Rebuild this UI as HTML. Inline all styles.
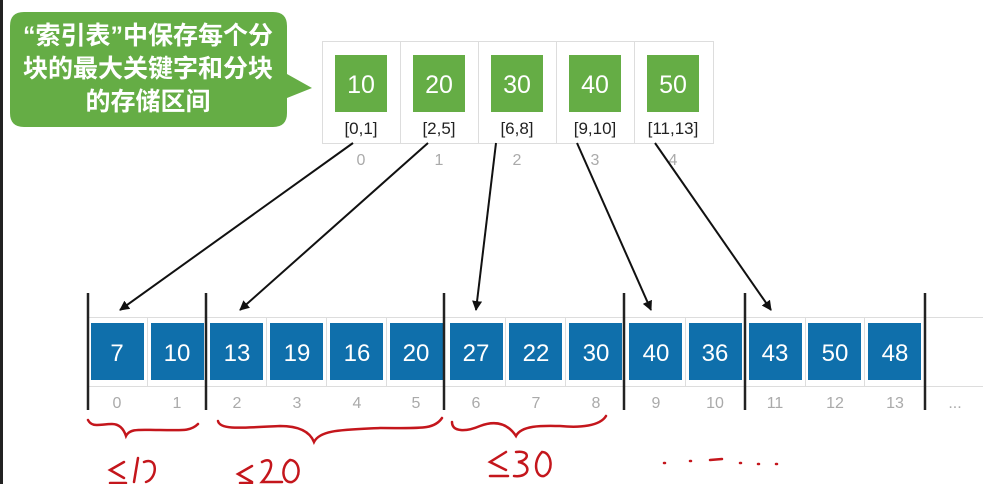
<!DOCTYPE html>
<html><head><meta charset="utf-8"><style>
html,body{margin:0;padding:0;background:#fff;}
svg{display:block;}
</style></head><body>
<svg width="983" height="484" viewBox="0 0 983 484" xmlns="http://www.w3.org/2000/svg" font-family="Liberation Sans, Arial, sans-serif">
<rect x="0" y="0" width="3" height="484" fill="#222"/>
<!-- callout -->
<path d="M24,12 H273 Q287,12 287,26 V74 L312,88 L287,98 V113 Q287,127 273,127 H24 Q10,127 10,113 V26 Q10,12 24,12 Z" fill="#65ad45"/>
<g fill="#fff" font-size="25" font-weight="bold" text-anchor="middle" font-family="Liberation Sans, Noto Sans CJK SC, sans-serif">
<text x="148" y="44">“索引表”中保存每个分</text>
<text x="148" y="77">块的最大关键字和分块</text>
<text x="148" y="110">的存储区间</text>
</g>
<!-- index table -->
<rect x="322.5" y="41.5" width="391" height="102" fill="#fff" stroke="#ddd"/>
<g stroke="#ddd"><line x1="400.5" y1="41" x2="400.5" y2="143"/><line x1="478.5" y1="41" x2="478.5" y2="143"/><line x1="556.5" y1="41" x2="556.5" y2="143"/><line x1="634.5" y1="41" x2="634.5" y2="143"/></g>
<g fill="#65ad45">
<rect x="335" y="55" width="52" height="57"/><rect x="413" y="55" width="52" height="57"/><rect x="491" y="55" width="52" height="57"/><rect x="569" y="55" width="52" height="57"/><rect x="647" y="55" width="52" height="57"/>
</g>
<g fill="#fff" font-size="25" text-anchor="middle">
<text x="361" y="93">10</text><text x="439" y="93">20</text><text x="517" y="93">30</text><text x="595" y="93">40</text><text x="673" y="93">50</text>
</g>
<g fill="#222" font-size="17" text-anchor="middle">
<text x="361" y="134">[0,1]</text><text x="439" y="134">[2,5]</text><text x="517" y="134">[6,8]</text><text x="595" y="134">[9,10]</text><text x="673" y="134">[11,13]</text>
</g>
<g fill="#aaa" font-size="16" text-anchor="middle">
<text x="361" y="165">0</text><text x="439" y="165">1</text><text x="517" y="165">2</text><text x="595" y="165">3</text><text x="673" y="165">4</text>
</g>
<!-- array strip -->
<rect x="88" y="317.5" width="900" height="69" fill="#fff" stroke="#ddd"/>
<g fill="#0f6fab">
<rect x="91" y="323" width="53" height="57"/><rect x="151" y="323" width="53" height="57"/><rect x="210" y="323" width="53" height="57"/><rect x="270" y="323" width="53" height="57"/><rect x="330" y="323" width="53" height="57"/><rect x="390" y="323" width="53" height="57"/><rect x="450" y="323" width="53" height="57"/><rect x="509" y="323" width="53" height="57"/><rect x="569" y="323" width="53" height="57"/><rect x="629" y="323" width="53" height="57"/><rect x="689" y="323" width="53" height="57"/><rect x="749" y="323" width="53" height="57"/><rect x="808" y="323" width="53" height="57"/><rect x="868" y="323" width="53" height="57"/>
</g>
<g stroke="#ddd"><line x1="147.5" y1="318" x2="147.5" y2="386"/><line x1="266.5" y1="318" x2="266.5" y2="386"/><line x1="326.5" y1="318" x2="326.5" y2="386"/><line x1="386.5" y1="318" x2="386.5" y2="386"/><line x1="505.5" y1="318" x2="505.5" y2="386"/><line x1="565.5" y1="318" x2="565.5" y2="386"/><line x1="685.5" y1="318" x2="685.5" y2="386"/><line x1="805.5" y1="318" x2="805.5" y2="386"/><line x1="864.5" y1="318" x2="864.5" y2="386"/></g>
<g fill="#fff" font-size="24" text-anchor="middle">
<text x="117" y="361">7</text><text x="177" y="361">10</text><text x="237" y="361">13</text><text x="297" y="361">19</text><text x="357" y="361">16</text><text x="416" y="361">20</text><text x="476" y="361">27</text><text x="536" y="361">22</text><text x="596" y="361">30</text><text x="656" y="361">40</text><text x="715" y="361">36</text><text x="775" y="361">43</text><text x="835" y="361">50</text><text x="895" y="361">48</text>
</g>
<g fill="#aaa" font-size="16" text-anchor="middle">
<text x="117" y="408">0</text><text x="177" y="408">1</text><text x="237" y="408">2</text><text x="297" y="408">3</text><text x="357" y="408">4</text><text x="416" y="408">5</text><text x="476" y="408">6</text><text x="536" y="408">7</text><text x="596" y="408">8</text><text x="656" y="408">9</text><text x="715" y="408">10</text><text x="775" y="408">11</text><text x="835" y="408">12</text><text x="895" y="408">13</text><text x="955" y="408">...</text>
</g>
<g stroke="#222" stroke-width="2.5">
<line x1="88" y1="293" x2="88" y2="410"/><line x1="206" y1="293" x2="206" y2="410"/><line x1="444" y1="293" x2="444" y2="410"/><line x1="624" y1="293" x2="624" y2="410"/><line x1="745" y1="293" x2="745" y2="410"/><line x1="925" y1="293" x2="925" y2="410"/>
</g>
<!-- arrows -->
<defs><marker id="ah" markerWidth="10" markerHeight="10" refX="9" refY="5" orient="auto" markerUnits="userSpaceOnUse"><path d="M0,0 L10,5 L0,10 Z" fill="#111"/></marker></defs>
<g stroke="#111" stroke-width="2" marker-end="url(#ah)">
<line x1="353" y1="143" x2="120" y2="310"/>
<line x1="428" y1="143" x2="240" y2="310"/>
<line x1="496" y1="143" x2="476" y2="310"/>
<line x1="577" y1="143" x2="651" y2="310"/>
<line x1="655" y1="143" x2="771" y2="310"/>
</g>
<!-- handwriting -->
<g fill="none" stroke="#c4161c" stroke-width="2.5" stroke-linecap="round">
<path d="M88,420 C92,428 100,424 112,424 C120,424 124,430 126,436 C130,428 140,430 160,430 C180,430 190,432 198,424"/>
<path d="M218,421 C220,430 240,428 280,426 C300,426 310,432 314,442 C320,430 340,430 380,428 C420,428 434,430 442,418"/>
<path d="M452,422 C452,432 466,432 480,426 C496,420 508,424 516,436 C522,424 548,426 560,426 C580,428 600,426 606,416"/>
<path d="M124,462 L110,470 L124,478 M110,483 L126,483 M138,458 L134,482 M144,462 C158,456 158,478 146,482"/>
<path d="M252,466 L238,474 L252,482 M240,483 L252,483 M262,462 C272,456 276,466 262,482 L282,482 M290,460 C280,466 282,484 292,482 C302,478 300,460 290,460"/>
<path d="M506,452 L490,462 L506,470 M490,476 L508,476 M516,452 C530,450 530,460 518,462 C532,464 530,478 514,476 M542,452 C532,462 536,478 544,476 C554,472 552,452 542,452"/>
<path d="M664,463 L665,463 M690,461 L691,461 M710,460 L722,459 M740,463 L741,463 M758,464 L759,464 M776,464 L777,464"/>
</g>
</svg>
</body></html>
